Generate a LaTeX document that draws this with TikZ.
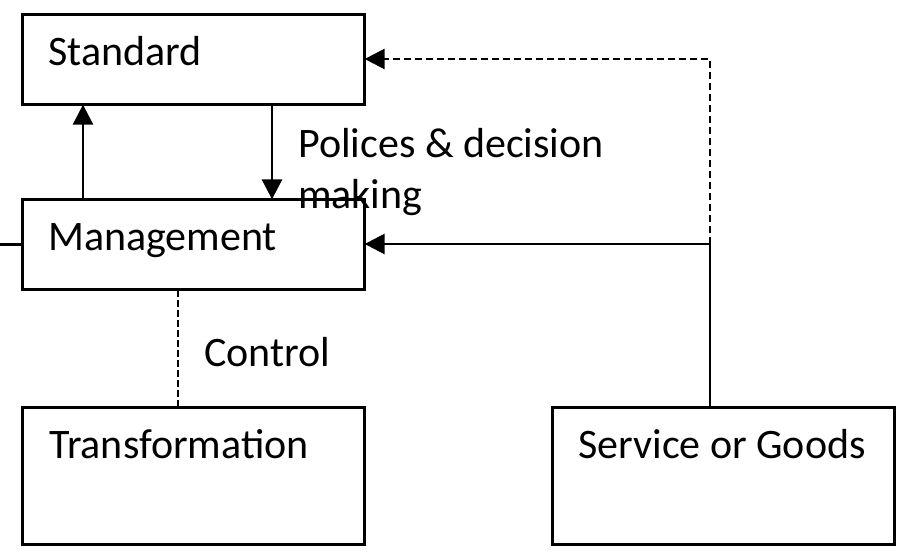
\documentclass[tikz,border=0pt]{standalone}
\usepackage{fontspec}
\setmainfont{Carlito}
\usetikzlibrary{arrows.meta}
\begin{document}
\begin{tikzpicture}[x=1pt,y=-1pt,
  box/.style={draw,line width=2.7pt,anchor=north west,inner sep=0pt,outer sep=0pt},
  lbl/.style={anchor=base west,inner sep=0pt,font=\fontsize{42}{50}\selectfont},
  conn/.style={line width=2.6pt},
  arr/.style={-{Triangle[length=20pt,width=20pt]}},
  dashA/.style={dash pattern=on 7pt off 4pt},
  dashB/.style={line width=1.3pt,dash pattern=on 7pt off 3pt}]
\useasboundingbox (0,0) rectangle (900,554);
\node[box,minimum width=342.3pt,minimum height=90.3pt] (std) at (22.35,14.35) {};
\node[box,minimum width=342.3pt,minimum height=90.3pt] (mgmt) at (22.35,199.35) {};
\node[box,minimum width=342.3pt,minimum height=137.3pt] (trans) at (22.35,407.35) {};
\node[box,minimum width=342.3pt,minimum height=137.3pt] (svc) at (552.35,407.35) {};
\node[lbl] (tstd) at (48,65) {Standard};
\node[lbl] (tmgmt) at (48,250) {Management};
\node[lbl] (tpol1) at (298,157) {Polices \& decision};
\node[lbl] (tpol2) at (298,208) {making};
\node[lbl] (tctl) at (204,366) {Control};
\node[lbl] (ttrans) at (49,458) {Transformation};
\node[lbl] (tsvc) at (578,458) {Service or Goods};
\coordinate (ux) at (83,0);
\coordinate (dx) at (272,0);
\coordinate (cx) at (178,0);
\coordinate (jn) at (710,244);
\coordinate (jt) at (710,59);
\coordinate (lf) at (0,244.5);
\draw[conn,arr] (ux |- mgmt.north) -- (ux |- std.south);
\draw[conn,arr] (dx |- std.south) -- (dx |- mgmt.north);
\draw[conn,dashA,arr] (jn) -- (jt) -- (jt -| std.east);
\draw[conn,arr] (jn |- svc.north) -- (jn) -- (jn -| mgmt.east);
\draw[dashB] (cx |- mgmt.south) -- (cx |- trans.north);
\draw[conn] (lf) -- (mgmt.west);
\end{tikzpicture}
\end{document}
